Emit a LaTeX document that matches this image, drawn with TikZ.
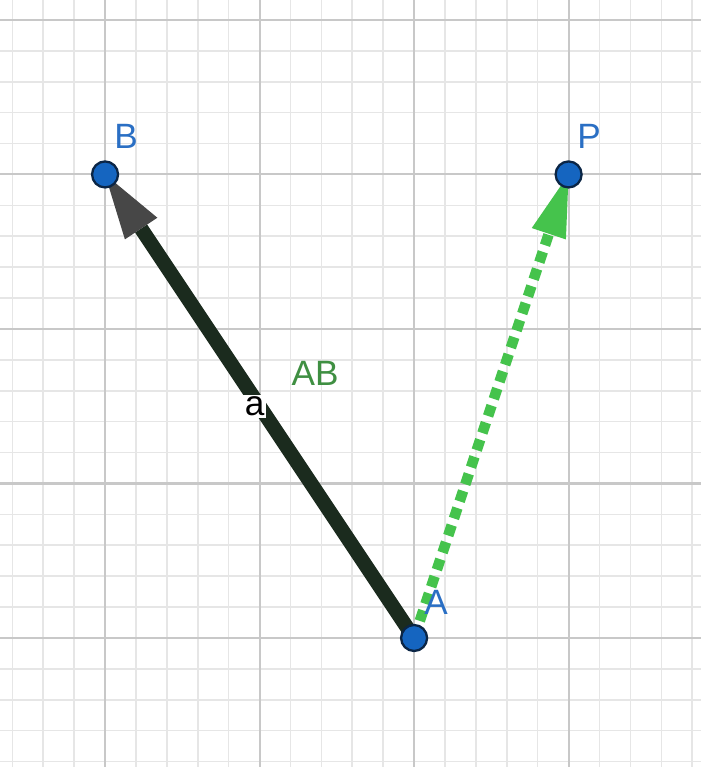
\documentclass[tikz,border=0pt]{standalone}
\usepackage{fontspec}
\setsansfont{Liberation Sans}
\usepackage{tikz}
\usetikzlibrary{arrows.meta}

\definecolor{gridminor}{HTML}{E6E6E6}
\definecolor{gridmajor}{HTML}{C8C8C8}
\definecolor{ptblue}{HTML}{1565C0}
\definecolor{ptedge}{HTML}{0B2545}
\definecolor{lblblue}{HTML}{2A6FC4}
\definecolor{vecdark}{HTML}{1B2B1E}
\definecolor{vecgreen}{HTML}{45C34C}
\definecolor{txtgreen}{HTML}{3F8F42}

\begin{document}
\begin{tikzpicture}[x=3.09cm, y=3.09cm, every node/.style={font=\sffamily\fontsize{20}{24}\selectfont},
	pt/.style={circle, fill=ptblue, draw=ptedge, line width=1.3pt, inner sep=0pt, minimum size=0.52cm},
	ptlabel/.style={text=lblblue}]
	\fill[white] (-2.68,-0.835) rectangle (1.851,4.129);
	\useasboundingbox (-2.68,-0.835) rectangle (1.851,4.129);
	\draw[gridminor, line width=0.9pt, step=0.2] (-2.8,-1) grid (2,4.2);
	\draw[gridmajor, line width=1.2pt, step=1] (-2.8,-1) grid (2,4.2);
	\coordinate (A) at (0,0);
	\coordinate (B) at (-2,3);
	\coordinate (P) at (1,3);
	% vector a = AB
	\draw[vecdark, line width=0.29cm, -{Triangle[length=1.3cm, width=0.78cm, color=black!72, fill=black!72, line width=0pt]}] (A) -- (B)
		node[pos=0.5, xshift=-0.1cm, fill=white, inner sep=1pt, text=black] (alabel) {a};
	% dashed copy towards P
	\draw[vecgreen, line width=0.21cm, dash pattern=on 0.22cm off 0.14cm, -{Triangle[length=1.25cm, width=0.72cm, fill=vecgreen, line width=0pt]}] (A) -- (P);
	\node[pt] (Adot) at (A) {};
	\node[pt] (Bdot) at (B) {};
	\node[pt] (Pdot) at (P) {};
	\node[ptlabel] (Alabel) at (0.142,0.227) {A};
	\node[ptlabel] (Blabel) at (-1.864,3.243) {B};
	\node[ptlabel] (Plabel) at (1.133,3.243) {P};
	\node[text=txtgreen] (ABlabel) at (-0.641,1.715) {AB};
\end{tikzpicture}
\end{document}
